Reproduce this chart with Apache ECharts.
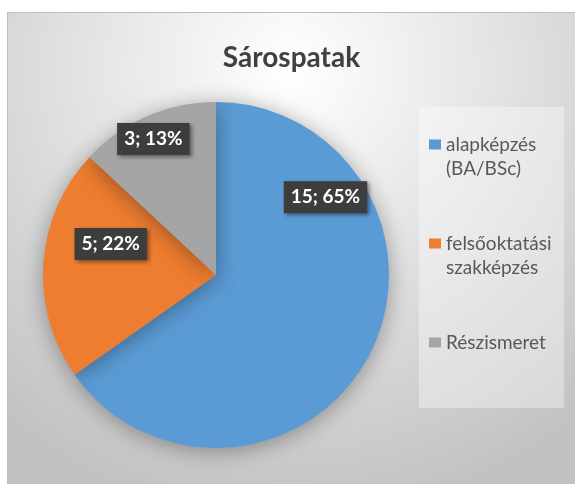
<!DOCTYPE html>
<html>
<head>
<meta charset="utf-8">
<script src="https://cdn.jsdelivr.net/npm/echarts@6/dist/echarts.min.js"></script>
<style>
  html, body { margin: 0; padding: 0; background: #fff; }
  #chart {
    position: absolute; left: 7px; top: 12px;
    width: 567px; height: 471px;
    border-top: 1px solid #bdbdbd; border-left: 1px solid #bdbdbd;
  }
</style>
</head>
<body>
<div id="chart"></div>
<script>
// adatok
var categories = ['alapképzés (BA/BSc)', 'felsőoktatási szakképzés', 'Részismeret']
var values = [15, 5, 3]
var colors = ['#5b9bd5', '#ed7d31', '#a5a5a5']
// címkék eltolása a szelet közepéhez képest (Excel "best fit")
var labelOffsets = [[30, -119], [-16, -25], [-27, -54]]

var chart = echarts.init(document.getElementById('chart'))

// legend rich stílusok: színes négyzet + szöveg
var rich = { t: { color: '#595959', fontSize: 19, lineHeight: 24, fontFamily: 'Lato' }, sp: { width: 17 } }
categories.forEach(function (c, i) {
  rich['i' + i] = { backgroundColor: colors[i], width: 12, height: 10 }
  rich['g' + i] = { width: 5 }
})

chart.setOption({
  backgroundColor: new echarts.graphic.RadialGradient(0.5, 0.12, 0.95, [
    { offset: 0, color: '#ffffff' },
    { offset: 0.45, color: '#e4e4e4' },
    { offset: 1, color: '#c2c2c2' }
  ]),
  title: {
    text: 'Sárospatak',
    left: 'center',
    top: 26,
    textStyle: { color: '#404040', fontSize: 28, fontWeight: 'bold', fontFamily: 'Lato' }
  },
  graphic: [{
    type: 'rect',
    left: 411, top: 94,
    shape: { width: 145, height: 301 },
    style: { fill: 'rgba(255,255,255,0.35)' },
    z: 0
  }],
  legend: {
    orient: 'vertical',
    left: 411,
    top: 117,
    itemWidth: 0,
    itemHeight: 10,
    itemGap: 56,
    data: categories,
    formatter: function (name) {
      var i = categories.indexOf(name)
      var parts = name.split(' ')
      var s = '{i' + i + '|}{g' + i + '|}{t|' + parts[0] + '}'
      if (parts.length > 1) s += '\n{sp|}{t|' + parts.slice(1).join(' ') + '}'
      return s
    },
    textStyle: { rich: rich }
  },
  series: [{
    type: 'pie',
    center: [208, 262],
    radius: 173,
    startAngle: 90,
    clockwise: true,
    silent: true,
    animation: false,
    itemStyle: {
      shadowBlur: 22,
      shadowColor: 'rgba(0,0,0,0.35)',
      shadowOffsetY: 3
    },
    label: {
      position: 'inside',
      formatter: function (p) { return p.value + '; ' + Math.round(p.percent) + '%' },
      color: '#ffffff',
      fontSize: 19,
      fontWeight: 'bold',
      fontFamily: 'Lato',
      backgroundColor: '#3d3d3d',
      padding: [7, 7, 6, 7],
      shadowBlur: 4,
      shadowColor: 'rgba(0,0,0,0.45)',
      shadowOffsetX: 2,
      shadowOffsetY: 2
    },
    labelLine: { show: false },
    data: categories.map(function (c, i) {
      return {
        name: c,
        value: values[i],
        itemStyle: { color: colors[i] },
        label: { offset: labelOffsets[i] }
      }
    })
  }]
})
</script>
</body>
</html>
